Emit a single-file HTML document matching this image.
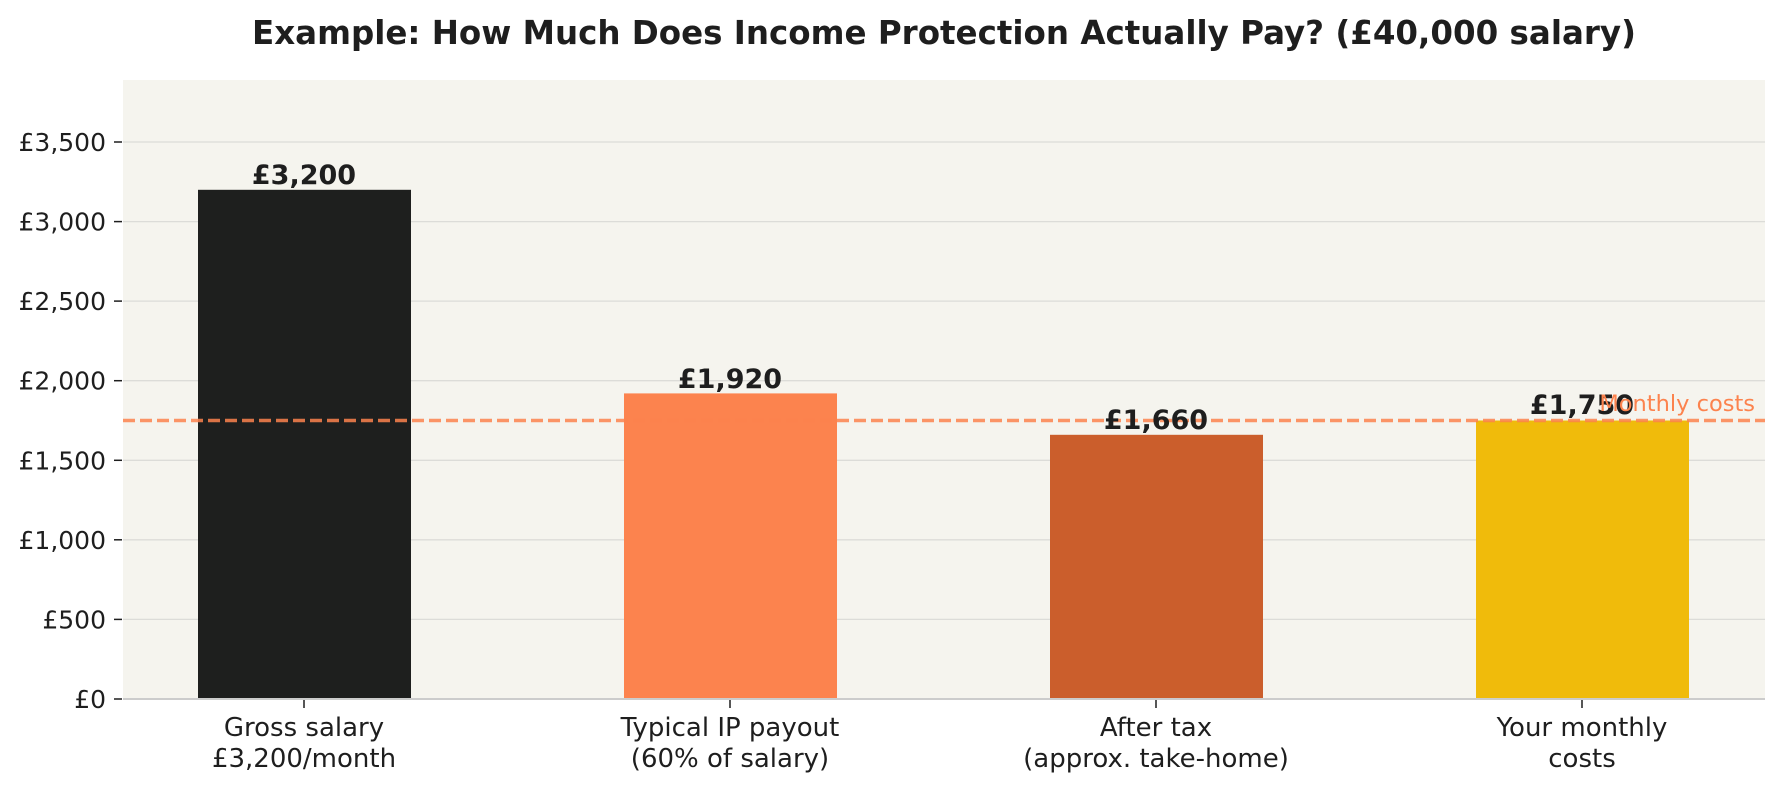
<!DOCTYPE html>
<html><head><meta charset="utf-8"><style>
html,body{margin:0;padding:0;background:#fff;}
svg{display:block;font-family:"DejaVu Sans","Liberation Sans",sans-serif;}
</style></head><body>
<svg width="1782" height="790" viewBox="0 0 1782 790" xmlns="http://www.w3.org/2000/svg">
<rect x="0" y="0" width="1782" height="790" fill="#fff"/>
<text x="944" y="44" text-anchor="middle" font-size="32.5" font-weight="bold" fill="#1e1e1e">Example: How Much Does Income Protection Actually Pay? (£40,000 salary)</text>
<rect x="123" y="80" width="1642" height="619" fill="#f5f4ee"/>
<g stroke="#dcdcd8" stroke-width="1.3">
<line x1="123" x2="1765" y1="619.4" y2="619.4"/>
<line x1="123" x2="1765" y1="539.8" y2="539.8"/>
<line x1="123" x2="1765" y1="460.3" y2="460.3"/>
<line x1="123" x2="1765" y1="380.7" y2="380.7"/>
<line x1="123" x2="1765" y1="301.1" y2="301.1"/>
<line x1="123" x2="1765" y1="221.6" y2="221.6"/>
<line x1="123" x2="1765" y1="142" y2="142"/>
</g>
<rect x="198" y="189.8" width="213" height="509.2" fill="#1e1f1e"/>
<rect x="624" y="393.4" width="213" height="305.6" fill="#fc834e"/>
<rect x="1050" y="434.8" width="213" height="264.2" fill="#cb5e2c"/>
<rect x="1476" y="420.5" width="213" height="278.5" fill="#f0bb0b"/>
<line x1="123" x2="1765" y1="420.5" y2="420.5" stroke="#fc834e" stroke-opacity="0.85" stroke-width="3.5" stroke-dasharray="12,5"/>
<line x1="123" x2="1765" y1="699" y2="699" stroke="#cccccc" stroke-width="2"/>
<g stroke="#1e1e1e" stroke-width="1.5">
<line x1="114" x2="122" y1="699" y2="699"/><line x1="114" x2="122" y1="619.4" y2="619.4"/>
<line x1="114" x2="122" y1="539.8" y2="539.8"/><line x1="114" x2="122" y1="460.3" y2="460.3"/>
<line x1="114" x2="122" y1="380.7" y2="380.7"/><line x1="114" x2="122" y1="301.1" y2="301.1"/>
<line x1="114" x2="122" y1="221.6" y2="221.6"/><line x1="114" x2="122" y1="142" y2="142"/>
<line x1="304" x2="304" y1="700" y2="708"/><line x1="730" x2="730" y1="700" y2="708"/>
<line x1="1156" x2="1156" y1="700" y2="708"/><line x1="1582" x2="1582" y1="700" y2="708"/>
</g>
<g font-size="25" fill="#1e1e1e" text-anchor="end">
<text x="106" y="708">£0</text><text x="106" y="628.4">£500</text>
<text x="106" y="548.8">£1,000</text><text x="106" y="469.3">£1,500</text>
<text x="106" y="389.7">£2,000</text><text x="106" y="310.1">£2,500</text>
<text x="106" y="230.6">£3,000</text><text x="106" y="151">£3,500</text>
</g>
<g font-size="26" fill="#1e1e1e" text-anchor="middle">
<text x="304" y="736">Gross salary</text><text x="304" y="767">£3,200/month</text>
<text x="730" y="736">Typical IP payout</text><text x="730" y="767">(60% of salary)</text>
<text x="1156" y="736">After tax</text><text x="1156" y="767">(approx. take-home)</text>
<text x="1582" y="736">Your monthly</text><text x="1582" y="767">costs</text>
</g>
<g font-size="27" font-weight="bold" fill="#1e1e1e" text-anchor="middle">
<text x="304" y="184">£3,200</text>
<text x="730" y="388">£1,920</text>
<text x="1156" y="429">£1,660</text>
<text x="1582" y="414">£1,750</text>
</g>
<text x="1755" y="411" text-anchor="end" font-size="22.5" fill="#fc834e">Monthly costs</text>
</svg>
</body></html>
